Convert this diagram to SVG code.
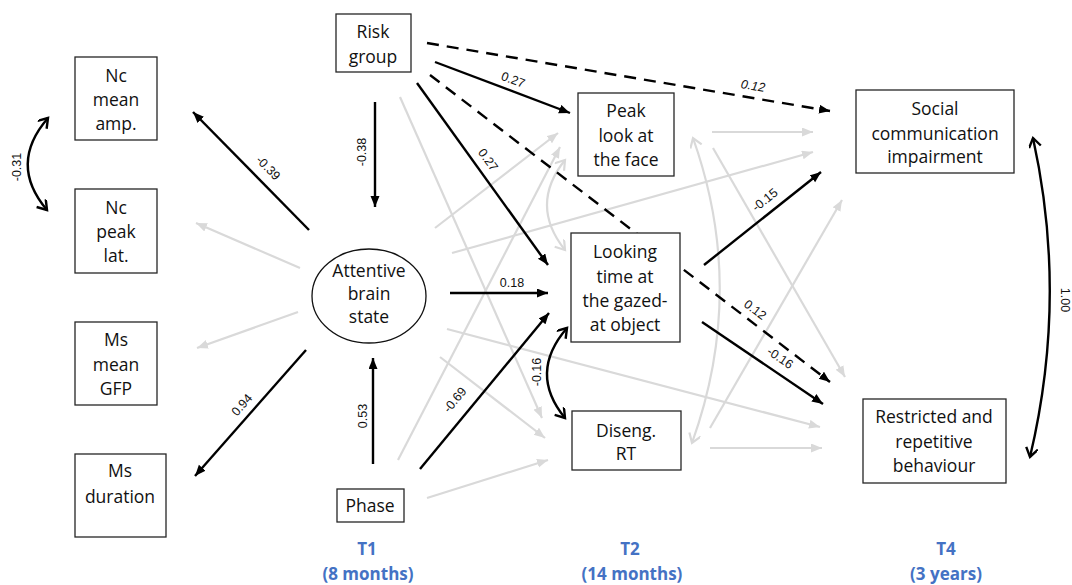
<svg xmlns="http://www.w3.org/2000/svg" width="1072" height="585" viewBox="0 0 1072 585">
  <defs>
    <style>
      .box { fill: #ffffff; stroke: #262626; stroke-width: 1.3; }
      .nt { font-family: "Open Sans", "Liberation Sans", sans-serif; font-size: 17.5px; fill: #111; text-anchor: middle; }
      .tl { font-family: "Open Sans", "Liberation Sans", sans-serif; font-size: 17px; font-weight: bold; fill: #4472C4; text-anchor: middle; }
      .lb { font-family: "Liberation Sans", Arial, sans-serif; font-size: 12.5px; fill: #111; text-anchor: middle; }
      .blk { fill: none; stroke: #000; stroke-width: 2.4; marker-end: url(#ab); }
      .dsh { fill: none; stroke: #000; stroke-width: 2.4; stroke-dasharray: 12 8; marker-end: url(#ab); }
      .gry { fill: none; stroke: #d9d9d9; stroke-width: 2.2; marker-end: url(#ag); }
      .cblk { fill: none; stroke: #000; stroke-width: 2.4; marker-start: url(#cb); marker-end: url(#cb); }
      .cgry { fill: none; stroke: #d9d9d9; stroke-width: 2.2; marker-start: url(#cg); marker-end: url(#cg); }
    </style>
    <marker id="ab" markerUnits="userSpaceOnUse" markerWidth="12" markerHeight="10" refX="11" refY="4.5" orient="auto">
      <path d="M0,0 L11,4.5 L0,9 z" fill="#000"/>
    </marker>
    <marker id="ag" markerUnits="userSpaceOnUse" markerWidth="12" markerHeight="10" refX="11" refY="4.5" orient="auto">
      <path d="M0,0 L11,4.5 L0,9 z" fill="#d9d9d9"/>
    </marker>
    <marker id="cb" markerUnits="userSpaceOnUse" markerWidth="14" markerHeight="14" refX="10" refY="6" orient="auto-start-reverse">
      <path d="M1,0 L10,6 L1,12" fill="none" stroke="#000" stroke-width="2.4"/>
    </marker>
    <marker id="cg" markerUnits="userSpaceOnUse" markerWidth="14" markerHeight="14" refX="10" refY="6" orient="auto-start-reverse">
      <path d="M1,0 L10,6 L1,12" fill="none" stroke="#d9d9d9" stroke-width="2.2"/>
    </marker>
  </defs>

  <rect width="1072" height="585" fill="#ffffff"/>

  <!-- connectors: non-significant paths first, then significant ones on top -->
  <g id="connectors">
    <path class="gry" d="M300,268 L196,223"/>
    <path class="gry" d="M298,312 L197,348"/>
    <path class="gry" d="M400,97 L542,418"/>
    <path class="gry" d="M398,460 L560,147"/>
    <path class="gry" d="M435,228 L558,133"/>
    <path class="gry" d="M452,253 L813,152"/>
    <path class="gry" d="M447,329 L820,427"/>
    <path class="gry" d="M440,357 L545,438"/>
    <path class="gry" d="M427,498 L548,460"/>
    <path class="gry" d="M712,132 L813,132"/>
    <path class="gry" d="M713,148 L845,377"/>
    <path class="gry" d="M710,428 L842,200"/>
    <path class="gry" d="M710,448 L822,448"/>
    <path class="cgry" d="M565,160 Q529,205 565,250"/>
    <path class="cgry" d="M693,138 Q747,290 692,443"/>

    <path class="blk" d="M309,230 L193,112"/>
    <path class="blk" d="M306,350 L195,476"/>
    <path class="blk" d="M375,102 L375,207"/>
    <path class="blk" d="M373,464 L373,358"/>
    <path class="blk" d="M435,62 L570,113"/>
    <path class="blk" d="M417,83 L548,265"/>
    <path class="dsh" d="M430,75 L830,382"/>
    <path class="dsh" d="M427,43 L830,111"/>
    <path class="blk" d="M450,293 L548,293"/>
    <path class="blk" d="M420,469 L549,313"/>
    <path class="blk" d="M704,265 L821,172"/>
    <path class="blk" d="M702,322 L823,404"/>
    <path class="cblk" d="M567,328 Q528,373 565,418"/>
    <path class="cblk" d="M48,118 Q8,164 47,210"/>
    <path class="cblk" d="M1033,138 Q1068,297 1030,457"/>

    <!-- path coefficients -->
    <text class="lb" transform="translate(268,168) rotate(45.5)" y="4">-0.39</text>
    <text class="lb" transform="translate(242,405) rotate(-48.6)" y="4">0.94</text>
    <text class="lb" transform="translate(362,152) rotate(-90)" y="4">-0.38</text>
    <text class="lb" transform="translate(363,416) rotate(-90)" y="4">0.53</text>
    <text class="lb" transform="translate(513,80) rotate(20.7)" y="4">0.27</text>
    <text class="lb" transform="translate(488,160) rotate(54)" y="4">0.27</text>
    <text class="lb" transform="translate(753,86) rotate(9.6)" y="4" font-style="italic">0.12</text>
    <text class="lb" transform="translate(755,310) rotate(37.5)" y="4">0.12</text>
    <text class="lb" transform="translate(512,283)" y="4">0.18</text>
    <text class="lb" transform="translate(455,400) rotate(-50.4)" y="4">-0.69</text>
    <text class="lb" transform="translate(537,372) rotate(-90)" y="4">-0.16</text>
    <text class="lb" transform="translate(765,200) rotate(-38.5)" y="4">-0.15</text>
    <text class="lb" transform="translate(780,358) rotate(34)" y="4">-0.16</text>
    <text class="lb" transform="translate(17,167) rotate(-90)" y="4">-0.31</text>
    <text class="lb" transform="translate(1065,300) rotate(90)" y="4">1.00</text>
  </g>

  <!-- 8-month measures -->
  <g id="nc-mean-amp">
    <rect class="box" x="75" y="57" width="82" height="83"/>
    <text class="nt" x="116" y="82">Nc</text>
    <text class="nt" x="116" y="106">mean</text>
    <text class="nt" x="116" y="130">amp.</text>
  </g>
  <g id="nc-peak-lat">
    <rect class="box" x="75" y="189" width="82" height="84"/>
    <text class="nt" x="116" y="214">Nc</text>
    <text class="nt" x="116" y="238">peak</text>
    <text class="nt" x="116" y="262">lat.</text>
  </g>
  <g id="ms-mean-gfp">
    <rect class="box" x="75" y="322" width="82" height="83"/>
    <text class="nt" x="116" y="346">Ms</text>
    <text class="nt" x="116" y="371">mean</text>
    <text class="nt" x="116" y="395">GFP</text>
  </g>
  <g id="ms-duration">
    <rect class="box" x="75" y="454" width="91" height="83"/>
    <text class="nt" x="120" y="477">Ms</text>
    <text class="nt" x="120" y="503">duration</text>
  </g>
  <g id="risk-group">
    <rect class="box" x="336" y="14" width="75" height="58"/>
    <text class="nt" x="373" y="38">Risk</text>
    <text class="nt" x="373" y="63">group</text>
  </g>
  <g id="attentive-brain-state">
    <ellipse cx="369" cy="296" rx="57" ry="47" fill="#ffffff" stroke="#111" stroke-width="1.3"/>
    <text class="nt" x="369" y="277">Attentive</text>
    <text class="nt" x="369" y="300">brain</text>
    <text class="nt" x="369" y="323">state</text>
  </g>
  <g id="phase">
    <rect class="box" x="337" y="489" width="67" height="33"/>
    <text class="nt" x="370" y="512">Phase</text>
  </g>

  <!-- 14-month measures -->
  <g id="peak-look-face">
    <rect class="box" x="578" y="93" width="96" height="83"/>
    <text class="nt" x="626" y="117">Peak</text>
    <text class="nt" x="626" y="142">look at</text>
    <text class="nt" x="626" y="166">the face</text>
  </g>
  <g id="looking-time">
    <rect class="box" x="571" y="233" width="109" height="109"/>
    <text class="nt" x="625" y="258">Looking</text>
    <text class="nt" x="625" y="283">time at</text>
    <text class="nt" x="625" y="307">the gazed-</text>
    <text class="nt" x="625" y="331">at object</text>
  </g>
  <g id="diseng-rt">
    <rect class="box" x="572" y="411" width="109" height="59"/>
    <text class="nt" x="626" y="437">Diseng.</text>
    <text class="nt" x="626" y="460">RT</text>
  </g>

  <!-- 3-year outcomes -->
  <g id="social-communication">
    <rect class="box" x="856" y="90" width="158" height="83"/>
    <text class="nt" x="935" y="115">Social</text>
    <text class="nt" x="935" y="140">communication</text>
    <text class="nt" x="935" y="163">impairment</text>
  </g>
  <g id="restricted-repetitive">
    <rect class="box" x="863" y="399" width="143" height="84"/>
    <text class="nt" x="934" y="423">Restricted and</text>
    <text class="nt" x="934" y="448">repetitive</text>
    <text class="nt" x="934" y="472">behaviour</text>
  </g>

  <!-- time points -->
  <g id="time-labels">
    <text class="tl" x="367" y="555">T1</text>
    <text class="tl" x="368" y="580">(8 months)</text>
    <text class="tl" x="630" y="555">T2</text>
    <text class="tl" x="632" y="580">(14 months)</text>
    <text class="tl" x="946" y="555">T4</text>
    <text class="tl" x="946" y="580">(3 years)</text>
  </g>
</svg>
